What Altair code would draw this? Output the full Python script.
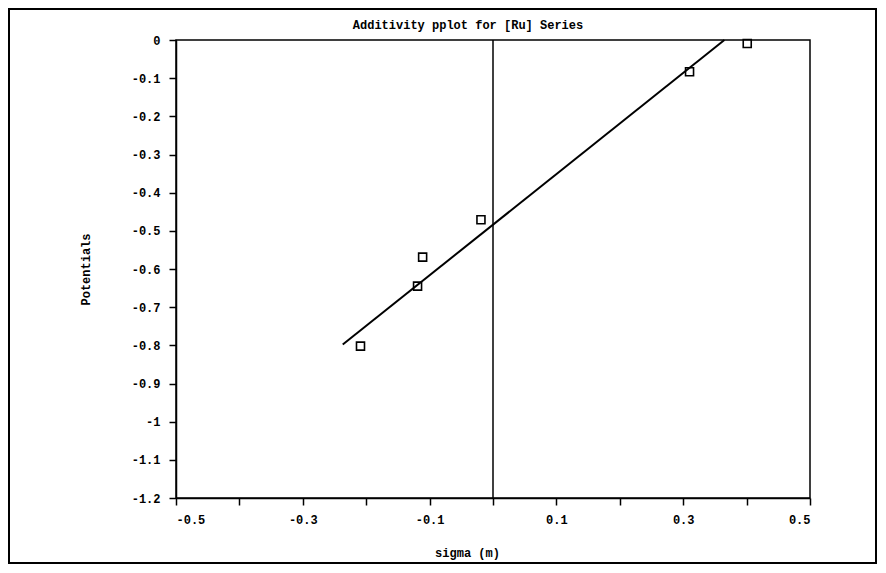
import altair as alt
import pandas as pd

# measured data points
sigma = [-0.209, -0.119, -0.111, -0.019, 0.310, 0.401]
potentials = [-0.802, -0.645, -0.569, -0.471, -0.083, -0.009]

# fitted line end points
fit_sigma = [-0.237, 0.365]
fit_potential = [-0.798, 0.0]

# axis ticks and labels
x_ticks = [-0.5, -0.4, -0.3, -0.2, -0.1, 0.0, 0.1, 0.2, 0.3, 0.4, 0.5]
x_tick_labels = ["-0.5", "", "-0.3", "", "-0.1", "", "0.1", "", "0.3", "", "0.5"]
y_ticks = [0.0, -0.1, -0.2, -0.3, -0.4, -0.5, -0.6, -0.7, -0.8, -0.9, -1.0, -1.1, -1.2]
y_tick_labels = ["0", "-0.1", "-0.2", "-0.3", "-0.4", "-0.5", "-0.6", "-0.7",
                 "-0.8", "-0.9", "-1", "-1.1", "-1.2"]

title_text = "Additivity pplot for [Ru] Series"
x_title = "sigma (m)"
y_title = "Potentials"

FONT = "Liberation Mono"


def label_expr(ticks, labels):
    arr_t = "[" + ",".join(repr(float(t)) for t in ticks) + "]"
    arr_l = "[" + ",".join("'" + l + "'" for l in labels) + "]"
    return f"{arr_l}[indexof({arr_t}, datum.value)]"


W, H = 634, 458

x_enc = alt.X(
    "sigma:Q",
    scale=alt.Scale(domain=[-0.5, 0.5], nice=False, zero=False),
    axis=alt.Axis(
        values=x_ticks,
        labelExpr=label_expr(x_ticks, x_tick_labels),
        title=x_title,
        titleX=291,
        titleY=54,
        titleAlign="center",
        titleBaseline="middle",
        labelPadding=9,
    ),
)
y_enc = alt.Y(
    "potential:Q",
    scale=alt.Scale(domain=[-1.2, 0], nice=False, zero=False),
    axis=alt.Axis(
        values=y_ticks,
        labelExpr=label_expr(y_ticks, y_tick_labels),
        title=y_title,
        titleX=-91,
        titleY=229,
        titleAngle=-90,
        titleAlign="center",
        titleBaseline="middle",
        labelPadding=9,
    ),
)

pts_df = pd.DataFrame({"sigma": sigma, "potential": potentials})
fit_df = pd.DataFrame({"sigma": fit_sigma, "potential": fit_potential})
zero_df = pd.DataFrame({"sigma": [0.0]})

border = alt.Chart(alt.Data(values=[{}])).mark_rect(
    filled=False, stroke="black", strokeWidth=2
).encode(
    x=alt.value(-167), x2=alt.value(700), y=alt.value(-31), y2=alt.value(523)
)

title = alt.Chart(alt.Data(values=[{}])).mark_text(
    text=title_text, font=FONT, fontSize=12, fontWeight="bold", color="black",
    align="center", baseline="middle"
).encode(x=alt.value(292), y=alt.value(-15))

vline = alt.Chart(zero_df).mark_rule(color="black", strokeWidth=1.5).encode(x=x_enc)

fit = alt.Chart(fit_df).mark_line(color="black", strokeWidth=2).encode(x=x_enc, y=y_enc)

points = alt.Chart(pts_df).mark_point(
    shape="square", filled=False, size=64, color="black", strokeWidth=1.6, opacity=1
).encode(x=x_enc, y=y_enc)

chart = alt.layer(border, title, vline, fit, points).properties(
    width=W, height=H,
    autosize=alt.AutoSizeParams(type="none"),
    padding={"left": 168, "top": 32, "right": 68, "bottom": 67},
    background="white",
).configure_view(
    stroke="black", strokeWidth=1.5
).configure_axis(
    grid=False,
    domainColor="black", domainWidth=1.5,
    tickColor="black", tickWidth=1.5, tickSize=7,
    labelFont=FONT, labelFontSize=12, labelFontWeight="bold", labelColor="black",
    titleFont=FONT, titleFontSize=12, titleFontWeight="bold", titleColor="black",
)

chart.save("out.html", embed_options={"renderer": "svg", "actions": False})
